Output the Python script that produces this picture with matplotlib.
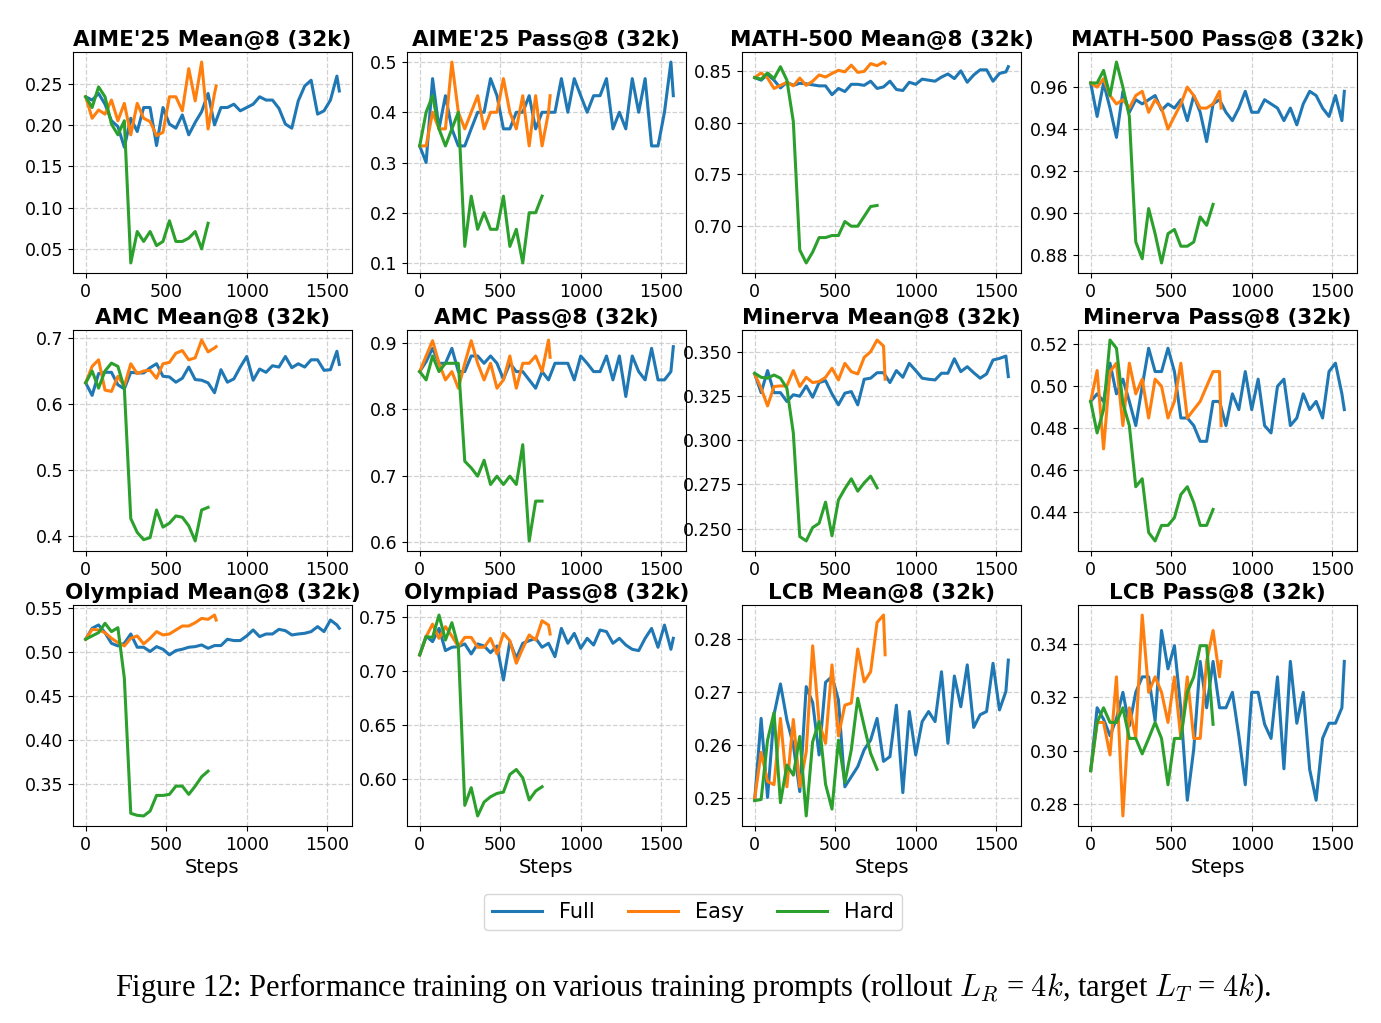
import matplotlib
matplotlib.use("Agg")
import matplotlib.pyplot as plt

# training steps (Full / Easy / Hard runs)
steps_full = list(range(0, 1561, 40)) + [1575]
steps_easy = list(range(0, 801, 40)) + [810]
steps_hard = list(range(0, 761, 40))

# ---- AIME'25 ----
aime_mean_full = [0.234, 0.230, 0.238, 0.225, 0.205, 0.198, 0.173, 0.208, 0.192, 0.221,
                  0.221, 0.175, 0.221, 0.201, 0.196, 0.212, 0.188, 0.203, 0.216, 0.238,
                  0.200, 0.221, 0.221, 0.225, 0.217, 0.221, 0.225, 0.234, 0.230, 0.230,
                  0.220, 0.201, 0.196, 0.229, 0.247, 0.254, 0.213, 0.217, 0.230, 0.259, 0.241]
aime_mean_easy = [0.234, 0.208, 0.218, 0.213, 0.230, 0.205, 0.226, 0.188, 0.226, 0.208,
                  0.204, 0.187, 0.191, 0.234, 0.234, 0.217, 0.268, 0.229, 0.276, 0.195, 0.238, 0.247]
aime_mean_hard = [0.234, 0.221, 0.246, 0.234, 0.201, 0.188, 0.205, 0.033, 0.071, 0.059,
                  0.071, 0.054, 0.059, 0.084, 0.059, 0.059, 0.063, 0.071, 0.050, 0.081]

aime_pass_full = [0.333, 0.300, 0.467, 0.367, 0.433, 0.367, 0.333, 0.333, 0.367, 0.400,
                  0.400, 0.467, 0.433, 0.367, 0.367, 0.400, 0.400, 0.433, 0.367, 0.400,
                  0.400, 0.400, 0.467, 0.400, 0.467, 0.433, 0.400, 0.433, 0.433, 0.467,
                  0.367, 0.400, 0.367, 0.467, 0.400, 0.467, 0.333, 0.333, 0.400, 0.500, 0.433]
aime_pass_easy = [0.333, 0.333, 0.400, 0.367, 0.367, 0.500, 0.400, 0.367, 0.400, 0.433,
                  0.367, 0.400, 0.400, 0.467, 0.400, 0.367, 0.433, 0.333, 0.433, 0.333, 0.400, 0.433]
aime_pass_hard = [0.333, 0.400, 0.433, 0.367, 0.333, 0.367, 0.400, 0.133, 0.233, 0.167,
                  0.200, 0.167, 0.167, 0.233, 0.133, 0.167, 0.100, 0.200, 0.200, 0.233]

# ---- MATH-500 ----
math_mean_full = [0.8435, 0.841, 0.8465, 0.841, 0.8335, 0.839, 0.836, 0.838, 0.8375, 0.8365,
                  0.8355, 0.8355, 0.827, 0.833, 0.830, 0.837, 0.837, 0.836, 0.840, 0.833,
                  0.8345, 0.840, 0.832, 0.831, 0.839, 0.837, 0.842, 0.841, 0.840, 0.844,
                  0.847, 0.8425, 0.850, 0.839, 0.846, 0.851, 0.851, 0.840, 0.8475, 0.849, 0.854]
math_mean_easy = [0.8435, 0.848, 0.843, 0.833, 0.836, 0.839, 0.8355, 0.843, 0.836, 0.840,
                  0.846, 0.844, 0.8475, 0.8505, 0.849, 0.8555, 0.8485, 0.8495, 0.857, 0.855, 0.8585, 0.857]
math_mean_hard = [0.8435, 0.842, 0.848, 0.8425, 0.854, 0.841, 0.801, 0.677, 0.6645, 0.675,
                  0.689, 0.689, 0.691, 0.691, 0.7045, 0.700, 0.700, 0.7095, 0.719, 0.720]

math_pass_full = [0.962, 0.946, 0.962, 0.950, 0.936, 0.958, 0.948, 0.954, 0.952, 0.954,
                  0.956, 0.949, 0.952, 0.950, 0.954, 0.944, 0.956, 0.948, 0.934, 0.952,
                  0.954, 0.948, 0.944, 0.950, 0.958, 0.948, 0.948, 0.954, 0.952, 0.950,
                  0.944, 0.950, 0.942, 0.952, 0.958, 0.956, 0.950, 0.946, 0.956, 0.944, 0.958]
math_pass_easy = [0.962, 0.960, 0.964, 0.956, 0.952, 0.954, 0.950, 0.956, 0.958, 0.948,
                  0.954, 0.950, 0.940, 0.946, 0.952, 0.960, 0.956, 0.950, 0.950, 0.952, 0.958, 0.950]
math_pass_hard = [0.962, 0.962, 0.968, 0.956, 0.972, 0.960, 0.946, 0.886, 0.878, 0.902,
                  0.890, 0.876, 0.890, 0.892, 0.884, 0.884, 0.886, 0.898, 0.894, 0.904]

# ---- AMC ----
amc_mean_full = [0.632, 0.613, 0.646, 0.648, 0.648, 0.629, 0.623, 0.648, 0.647, 0.647,
                 0.655, 0.661, 0.642, 0.641, 0.633, 0.639, 0.656, 0.637, 0.636, 0.632,
                 0.617, 0.652, 0.633, 0.638, 0.656, 0.672, 0.636, 0.653, 0.648, 0.658,
                 0.656, 0.672, 0.655, 0.661, 0.656, 0.667, 0.667, 0.651, 0.652, 0.680, 0.660]
amc_mean_easy = [0.632, 0.657, 0.667, 0.621, 0.619, 0.642, 0.627, 0.661, 0.646, 0.650,
                 0.651, 0.639, 0.661, 0.663, 0.677, 0.681, 0.667, 0.670, 0.697, 0.679, 0.685, 0.687]
amc_mean_hard = [0.632, 0.650, 0.624, 0.650, 0.662, 0.657, 0.624, 0.426, 0.405, 0.394,
                 0.397, 0.439, 0.413, 0.419, 0.430, 0.428, 0.415, 0.392, 0.439, 0.443]

amc_pass_full = [0.8565, 0.8715, 0.8915, 0.869, 0.869, 0.8915, 0.8565, 0.8565, 0.880, 0.880,
                 0.869, 0.880, 0.869, 0.845, 0.869, 0.8565, 0.8565, 0.844, 0.8315, 0.8565,
                 0.844, 0.869, 0.869, 0.869, 0.844, 0.880, 0.869, 0.8565, 0.8565, 0.880,
                 0.844, 0.880, 0.819, 0.880, 0.8565, 0.844, 0.8915, 0.844, 0.844, 0.8565, 0.894]
amc_pass_easy = [0.8565, 0.880, 0.903, 0.869, 0.844, 0.8565, 0.8315, 0.869, 0.903, 0.869,
                 0.844, 0.869, 0.8315, 0.844, 0.880, 0.8315, 0.869, 0.869, 0.880, 0.8565, 0.904, 0.878]
amc_pass_hard = [0.8565, 0.844, 0.880, 0.8565, 0.869, 0.869, 0.869, 0.7215, 0.7115, 0.699,
                 0.723, 0.6865, 0.699, 0.6865, 0.699, 0.6865, 0.7465, 0.6015, 0.6615, 0.6615]

# ---- Minerva ----
minerva_mean_full = [0.3376, 0.327, 0.3395, 0.327, 0.327, 0.322, 0.3258, 0.325, 0.3308, 0.3244,
                     0.3327, 0.3338, 0.3263, 0.3201, 0.3267, 0.3276, 0.3201, 0.3346, 0.3352, 0.3383,
                     0.3383, 0.3327, 0.3395, 0.3357, 0.3436, 0.3395, 0.3352, 0.3346, 0.3342, 0.338,
                     0.338, 0.3462, 0.3389, 0.3417, 0.3383, 0.3352, 0.3376, 0.3455, 0.3464, 0.3477, 0.3361]
minerva_mean_easy = [0.3376, 0.3295, 0.3195, 0.3305, 0.3308, 0.3308, 0.3395, 0.3305, 0.3357, 0.3327,
                     0.3333, 0.3357, 0.3408, 0.3342, 0.3436, 0.3389, 0.3376, 0.347, 0.3502, 0.3568,
                     0.3534, 0.3346]
minerva_mean_hard = [0.338, 0.3357, 0.3352, 0.337, 0.3352, 0.3295, 0.3041, 0.2455, 0.2430, 0.2506,
                     0.253, 0.265, 0.2459, 0.2662, 0.2726, 0.2782, 0.2712, 0.2759, 0.2797, 0.2731]

minerva_pass_full = [0.4928, 0.4964, 0.4928, 0.511, 0.4964, 0.5034, 0.4928, 0.4813, 0.500, 0.5181,
                     0.507, 0.507, 0.5181, 0.507, 0.4849, 0.4849, 0.4813, 0.4738, 0.4738, 0.4928,
                     0.4928, 0.4813, 0.4964, 0.4889, 0.507, 0.4889, 0.5034, 0.4813, 0.4778, 0.500,
                     0.5034, 0.4813, 0.4849, 0.4964, 0.4889, 0.4928, 0.4849, 0.507, 0.511, 0.4964, 0.4889]
minerva_pass_easy = [0.4928, 0.5075, 0.4702, 0.507, 0.511, 0.4813, 0.511, 0.4964, 0.5034, 0.4849,
                     0.5034, 0.500, 0.4849, 0.4928, 0.511, 0.4849, 0.4889, 0.4928, 0.500, 0.507,
                     0.507, 0.4813]
minerva_pass_hard = [0.4928, 0.4778, 0.4889, 0.522, 0.5181, 0.492, 0.4813, 0.4522, 0.456, 0.4304,
                     0.4264, 0.4338, 0.4338, 0.4375, 0.4485, 0.4522, 0.4446, 0.4338, 0.4338, 0.4414]

# ---- Olympiad ----
olym_mean_full = [0.5148, 0.5273, 0.5311, 0.5223, 0.5102, 0.5072, 0.5102, 0.5208, 0.5057, 0.5057,
                  0.5008, 0.5064, 0.5034, 0.497, 0.5019, 0.5034, 0.5057, 0.5064, 0.5083, 0.5045,
                  0.5076, 0.5076, 0.5148, 0.5133, 0.5133, 0.5186, 0.5254, 0.5178, 0.5208, 0.5208,
                  0.5261, 0.5246, 0.5197, 0.5208, 0.5216, 0.5235, 0.5292, 0.5235, 0.5367, 0.5311, 0.5273]
olym_mean_easy = [0.5148, 0.5261, 0.5254, 0.5223, 0.5159, 0.511, 0.5072, 0.5159, 0.5186, 0.5095,
                  0.5159, 0.5235, 0.5197, 0.5208, 0.5254, 0.5299, 0.5299, 0.5337, 0.5386, 0.5375,
                  0.5424, 0.5367]
olym_mean_hard = [0.5148, 0.5186, 0.5223, 0.533, 0.5235, 0.528, 0.4705, 0.3163, 0.314, 0.3133,
                  0.3189, 0.3367, 0.3367, 0.3379, 0.3473, 0.3473, 0.3379, 0.3473, 0.358, 0.3644]

olym_pass_full = [0.7152, 0.7327, 0.7275, 0.7398, 0.7192, 0.7223, 0.7229, 0.7254, 0.7161, 0.7254,
                  0.7235, 0.7173, 0.7235, 0.6919, 0.7275, 0.7121, 0.726, 0.7284, 0.7306, 0.7223,
                  0.726, 0.7136, 0.7398, 0.726, 0.7352, 0.7213, 0.7306, 0.7244, 0.7383, 0.7368,
                  0.726, 0.7306, 0.7244, 0.7204, 0.7192, 0.7306, 0.7398, 0.7223, 0.7429, 0.7204, 0.7306]
olym_pass_easy = [0.7152, 0.7321, 0.7438, 0.7306, 0.7414, 0.7327, 0.7229, 0.7315, 0.7315, 0.7223,
                  0.7223, 0.7306, 0.7161, 0.7352, 0.7284, 0.7075, 0.7213, 0.7337, 0.729, 0.7469,
                  0.7429, 0.7346]
olym_pass_hard = [0.7152, 0.7321, 0.7315, 0.7522, 0.729, 0.7451, 0.7229, 0.5756, 0.592, 0.5658,
                  0.5787, 0.5836, 0.5867, 0.5879, 0.6043, 0.6089, 0.6012, 0.5806, 0.5889, 0.5929]

# ---- LCB ----
lcb_mean_full = [0.2496, 0.265, 0.2501, 0.2657, 0.2715, 0.2647, 0.260, 0.2512, 0.271, 0.268,
                 0.2581, 0.2718, 0.2729, 0.2685, 0.2521, 0.254, 0.2559, 0.2591, 0.2609, 0.265,
                 0.2569, 0.2578, 0.2675, 0.251, 0.2663, 0.2581, 0.2644, 0.2663, 0.2644, 0.2738,
                 0.2603, 0.273, 0.2672, 0.2751, 0.2633, 0.2657, 0.2663, 0.2754, 0.2666, 0.2701, 0.276]
lcb_mean_easy = [0.2499, 0.2586, 0.2531, 0.2525, 0.265, 0.2521, 0.2648, 0.2521, 0.2587, 0.2787,
                 0.2642, 0.2603, 0.2751, 0.2617, 0.2675, 0.2679, 0.2781, 0.2719, 0.2738, 0.2831,
                 0.2845, 0.277]
lcb_mean_hard = [0.2495, 0.2497, 0.2609, 0.2661, 0.2491, 0.2562, 0.2543, 0.2616, 0.2466, 0.2606,
                 0.2644, 0.2526, 0.2479, 0.2609, 0.2529, 0.2591, 0.2688, 0.2635, 0.2584, 0.2554]

lcb_pass_full = [0.2925, 0.3161, 0.3118, 0.3056, 0.312, 0.3219, 0.3093, 0.3219, 0.3277, 0.3277,
                 0.3112, 0.3451, 0.3307, 0.3394, 0.3155, 0.2814, 0.3006, 0.3335, 0.3161, 0.3335,
                 0.3161, 0.3161, 0.3219, 0.3056, 0.2872, 0.3219, 0.3219, 0.3099, 0.3046, 0.3277,
                 0.2932, 0.3335, 0.3103, 0.3219, 0.2929, 0.2814, 0.3046, 0.3103, 0.3103, 0.3161, 0.3335]
lcb_pass_easy = [0.2925, 0.3106, 0.3106, 0.2984, 0.3277, 0.2755, 0.3161, 0.305, 0.3509, 0.3219,
                 0.3277, 0.3219, 0.3106, 0.3277, 0.3046, 0.3277, 0.3046, 0.3046, 0.3335, 0.3451,
                 0.3277, 0.3335]
lcb_pass_hard = [0.2925, 0.3106, 0.3161, 0.3106, 0.3106, 0.3161, 0.3046, 0.3046, 0.2988, 0.3046,
                 0.3106, 0.3046, 0.2872, 0.3046, 0.3046, 0.3219, 0.3277, 0.3394, 0.3394, 0.3099]

panels = [
    ("AIME'25 Mean@8 (32k)", aime_mean_full, aime_mean_easy, aime_mean_hard),
    ("AIME'25 Pass@8 (32k)", aime_pass_full, aime_pass_easy, aime_pass_hard),
    ("MATH-500 Mean@8 (32k)", math_mean_full, math_mean_easy, math_mean_hard),
    ("MATH-500 Pass@8 (32k)", math_pass_full, math_pass_easy, math_pass_hard),
    ("AMC Mean@8 (32k)", amc_mean_full, amc_mean_easy, amc_mean_hard),
    ("AMC Pass@8 (32k)", amc_pass_full, amc_pass_easy, amc_pass_hard),
    ("Minerva Mean@8 (32k)", minerva_mean_full, minerva_mean_easy, minerva_mean_hard),
    ("Minerva Pass@8 (32k)", minerva_pass_full, minerva_pass_easy, minerva_pass_hard),
    ("Olympiad Mean@8 (32k)", olym_mean_full, olym_mean_easy, olym_mean_hard),
    ("Olympiad Pass@8 (32k)", olym_pass_full, olym_pass_easy, olym_pass_hard),
    ("LCB Mean@8 (32k)", lcb_mean_full, lcb_mean_easy, lcb_mean_hard),
    ("LCB Pass@8 (32k)", lcb_pass_full, lcb_pass_easy, lcb_pass_hard),
]

plt.rcParams["mathtext.fontset"] = "cm"

fig = plt.figure(figsize=(13.81, 10.23), dpi=100)
W, H = 1381.0, 1023.0
col_left = [73, 407, 742, 1078]
row_top = [52, 330, 605]
ax_w, ax_h = 279, 221

lines = None
for i, (title, full, easy, hard) in enumerate(panels):
    r, c = divmod(i, 4)
    ax = fig.add_axes([col_left[c] / W, 1 - (row_top[r] + ax_h) / H, ax_w / W, ax_h / H])
    l1, = ax.plot(steps_full, full, color="#1f77b4", lw=2.2, label="Full")
    l2, = ax.plot(steps_easy, easy, color="#ff7f0e", lw=2.2, label="Easy")
    l3, = ax.plot(steps_hard, hard, color="#2ca02c", lw=2.2, label="Hard")
    lines = [l1, l2, l3]
    ax.set_title(title, fontsize=15.5, fontweight="bold", pad=4)
    ax.set_xticks([0, 500, 1000, 1500])
    ax.grid(True, linestyle="--", color="#cccccc", linewidth=0.9, alpha=0.9)
    ax.tick_params(labelsize=12.5)
    if r == 2:
        ax.set_xlabel("Steps", fontsize=14, labelpad=3)

fig.legend(lines, ["Full", "Easy", "Hard"], loc="center", ncol=3,
           bbox_to_anchor=(693 / W, 1 - 912 / H), fontsize=15,
           frameon=True, handlelength=2.4, columnspacing=1.6, fancybox=True)

fig.text(693 / W, 1 - 988 / H,
         r"Figure 12: Performance training on various training prompts (rollout $L_R$ = $4k$, target $L_T$ = $4k$).",
         ha="center", va="center", fontsize=22, family="Liberation Serif")

fig.savefig("out.png", dpi=100)
